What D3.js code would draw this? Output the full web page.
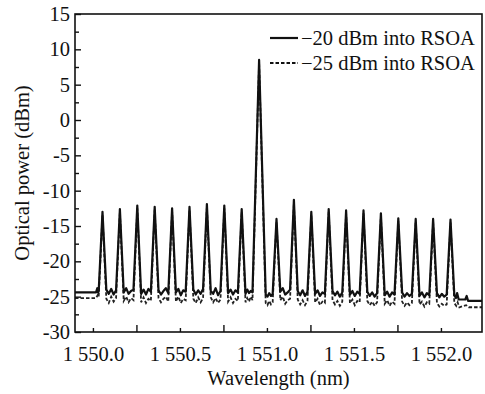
<!DOCTYPE html>
<html>
<head>
<meta charset="utf-8">
<script src="https://cdn.jsdelivr.net/npm/d3@7"></script>
<style>
  html, body { margin: 0; padding: 0; background: #fff; }
  svg text { font-family: "Liberation Serif", "Times New Roman", serif; }
</style>
</head>
<body>
<div id="chart"></div>
<script>
// Channel wavelengths (nm) and peak levels (dBm)
const peakWl = [1550.055, 1550.155, 1550.255, 1550.355, 1550.455, 1550.555, 1550.655,
  1550.755, 1550.855, 1550.955, 1551.055, 1551.155, 1551.255, 1551.355, 1551.455,
  1551.555, 1551.655, 1551.755, 1551.855, 1551.955, 1552.055];
const peakHalf = [0.022, 0.022, 0.022, 0.022, 0.022, 0.022, 0.022, 0.022, 0.022, 0.038,
  0.022, 0.022, 0.022, 0.022, 0.022, 0.022, 0.022, 0.022, 0.022, 0.022, 0.022];
const solidPeak = [-13.0, -12.6, -12.1, -12.3, -12.5, -12.3, -11.9, -12.1, -12.6, 8.5,
  -14.0, -11.3, -13.0, -12.6, -12.8, -12.8, -13.2, -13.9, -14.0, -14.0, -14.1];
const dashPeak = [-13.4, -13.0, -12.5, -12.7, -12.9, -12.7, -12.3, -12.5, -13.0, 8.1,
  -14.4, -11.8, -13.4, -13.0, -13.2, -13.2, -13.6, -14.3, -14.4, -14.4, -14.5];

// noise floor between neighbouring channels (5 readings per gap)
const solidFloor = [
  [-24.0, -24.6, -23.9, -24.7, -24.1], [-24.4, -23.8, -24.6, -24.2, -24.0], [-24.6, -24.0, -24.7, -23.9, -24.3],
  [-24.1, -24.7, -24.2, -23.8, -24.5], [-24.4, -23.9, -24.8, -24.1, -24.3], [-24.0, -24.7, -24.1, -24.6, -23.9],
  [-24.2, -24.6, -23.8, -24.8, -24.2], [-24.5, -24.0, -24.7, -24.1, -24.4], [-24.6, -24.0, -24.5, -24.2, -24.4],
  [-24.7, -25.0, -24.5, -24.9, -24.6], [-24.3, -23.8, -24.7, -24.4, -24.0], [-24.2, -24.8, -24.1, -24.9, -24.3],
  [-24.6, -24.1, -24.9, -24.4, -24.6], [-24.2, -24.8, -24.3, -25.0, -24.4], [-24.7, -24.2, -24.9, -24.3, -24.6],
  [-24.3, -24.9, -24.4, -25.0, -24.5], [-24.8, -24.3, -25.0, -24.4, -24.7], [-24.4, -25.0, -24.5, -24.9, -24.6],
  [-24.9, -24.4, -25.1, -24.5, -24.8], [-24.5, -25.1, -24.6, -25.0, -24.7]
];
const dashFloor = [
  [-25.3, -25.9, -25.0, -25.7, -25.2], [-25.6, -25.0, -25.8, -25.2, -25.5], [-25.8, -25.1, -25.9, -25.3, -25.6],
  [-25.2, -25.8, -25.3, -25.0, -25.7], [-25.7, -25.0, -25.9, -25.3, -25.5], [-25.3, -25.9, -25.1, -25.8, -25.2],
  [-25.1, -25.8, -25.2, -25.9, -25.4], [-25.7, -25.1, -25.9, -25.3, -25.6], [-25.8, -25.2, -25.7, -25.0, -25.5],
  [-25.9, -26.2, -25.6, -26.1, -25.8], [-25.5, -25.0, -26.0, -25.5, -25.3], [-25.4, -26.1, -25.5, -26.2, -25.6],
  [-25.8, -25.3, -26.2, -25.7, -25.9], [-25.5, -26.1, -25.6, -26.3, -25.7], [-25.9, -25.4, -26.2, -25.6, -25.8],
  [-25.6, -26.2, -25.7, -26.3, -25.8], [-26.0, -25.5, -26.3, -25.7, -26.0], [-25.7, -26.3, -25.8, -26.2, -25.9],
  [-26.1, -25.7, -26.4, -25.8, -26.0], [-25.9, -26.4, -26.0, -26.3, -26.1]
];
const solidLead = [[1549.897, -24.4], [1550.018, -24.4], [1550.025, -23.8], [1550.030, -24.4], [1550.033, -24.3]];
const solidTail = [[1552.077, -24.8], [1552.086, -25.2], [1552.093, -24.5], [1552.102, -25.4],
  [1552.140, -25.4], [1552.148, -24.9], [1552.156, -25.6], [1552.236, -25.6]];
const dashLead = [[1549.897, -25.2], [1550.018, -25.2], [1550.027, -24.8], [1550.033, -25.1]];
const dashTail = [[1552.077, -25.9], [1552.088, -26.3], [1552.096, -25.8], [1552.106, -26.5],
  [1552.145, -26.2], [1552.160, -26.5], [1552.236, -26.5]];

const xTicksLabel = [1550.0, 1550.5, 1551.0, 1551.5, 1552.0];
const xTicksLong = [1550.25, 1550.75, 1551.25, 1551.75];
const yTicksMajor = [-30, -25, -20, -15, -10, -5, 0, 5, 10, 15];
const yTicksMinor = [-27.5, -22.5, -17.5, -12.5, -7.5, -2.5, 2.5, 7.5, 12.5];

const legendItems = [
  { label: "\u221220 dBm into RSOA", dash: null, width: 2.2 },
  { label: "\u221225 dBm into RSOA", dash: "3.5,2", width: 1.8 }
];

const W = 485, H = 394;
const M = { left: 75, right: 3, top: 14, bottom: 62 };
const FS = 20.5;

const svg = d3.select("#chart").append("svg")
  .attr("width", W).attr("height", H);

const x = d3.scaleLinear().domain([1549.897, 1552.236]).range([M.left, W - M.right]);
const y = d3.scaleLinear().domain([-30, 15]).range([H - M.bottom, M.top]);

// assemble a spectrum: lead, then each channel peak followed by its floor gap, then tail
function buildSpectrum(lead, peaks, floors, tail) {
  const pts = lead.slice();
  peakWl.forEach((c, i) => {
    pts.push([c, peaks[i]]);
    if (i < floors.length) {
      const a = c + peakHalf[i];
      const b = peakWl[i + 1] - peakHalf[i + 1];
      const g = floors[i];
      g.forEach((v, j) => pts.push([a + (b - a) * j / (g.length - 1), v]));
    }
  });
  return pts.concat(tail);
}

svg.append("defs").append("clipPath").attr("id", "plot")
  .append("rect")
  .attr("x", M.left).attr("y", M.top)
  .attr("width", W - M.left - M.right).attr("height", H - M.top - M.bottom);

const line = d3.line().x(d => x(d[0])).y(d => y(d[1]));
const plot = svg.append("g").attr("clip-path", "url(#plot)");

plot.append("path")
  .datum(buildSpectrum(dashLead, dashPeak, dashFloor, dashTail))
  .attr("fill", "none")
  .attr("stroke", "#222")
  .attr("stroke-width", 1.8)
  .attr("stroke-dasharray", "3.5,2")
  .attr("d", line);

plot.append("path")
  .datum(buildSpectrum(solidLead, solidPeak, solidFloor, solidTail))
  .attr("fill", "none")
  .attr("stroke", "#111")
  .attr("stroke-width", 2.2)
  .attr("stroke-linejoin", "round")
  .attr("d", line);

// axes, ticks pointing inward
const xAxisY = H - M.bottom;
svg.append("g")
  .attr("transform", `translate(0,${xAxisY})`)
  .call(d3.axisBottom(x).tickValues(xTicksLabel).tickSize(-4).tickPadding(14)
    .tickFormat(d => "1 " + d3.format(".1f")(d).slice(1)))
  .call(g => g.select(".domain").remove());
svg.append("g")
  .attr("transform", `translate(0,${xAxisY})`)
  .call(d3.axisBottom(x).tickValues(xTicksLong).tickSize(-7).tickFormat(""))
  .call(g => g.select(".domain").remove());

svg.append("g")
  .attr("transform", `translate(${M.left},0)`)
  .call(d3.axisLeft(y).tickValues(yTicksMajor).tickSize(-6).tickPadding(5)
    .tickFormat(d => String(d)))
  .call(g => g.select(".domain").remove());
svg.append("g")
  .attr("transform", `translate(${M.left},0)`)
  .call(d3.axisLeft(y).tickValues(yTicksMinor).tickSize(-4).tickFormat(""))
  .call(g => g.select(".domain").remove());

svg.selectAll(".tick line").attr("stroke", "#111").attr("stroke-width", 1.4);
svg.selectAll(".tick text")
  .attr("font-size", FS).attr("fill", "#111");

// frame
svg.append("rect")
  .attr("x", M.left).attr("y", M.top)
  .attr("width", W - M.left - M.right).attr("height", H - M.top - M.bottom)
  .attr("fill", "none").attr("stroke", "#111").attr("stroke-width", 1.6);

// axis titles
svg.append("text")
  .attr("x", (M.left + W - M.right) / 2).attr("y", 385)
  .attr("text-anchor", "middle").attr("font-size", FS).attr("fill", "#111")
  .text("Wavelength (nm)");

svg.append("text")
  .attr("transform", `translate(29,${(M.top + H - M.bottom) / 2}) rotate(-90)`)
  .attr("text-anchor", "middle").attr("font-size", FS).attr("fill", "#111")
  .text("Optical power (dBm)");

// legend
const legend = svg.append("g").attr("transform", "translate(270,38)");
legendItems.forEach((d, i) => {
  const row = legend.append("g").attr("transform", `translate(0,${i * 25})`);
  row.append("line")
    .attr("x1", 0).attr("x2", 28).attr("y1", 0).attr("y2", 0)
    .attr("stroke", "#111").attr("stroke-width", d.width)
    .attr("stroke-dasharray", d.dash);
  row.append("text")
    .attr("x", 31).attr("y", 7)
    .attr("font-size", FS).attr("fill", "#111")
    .text(d.label);
});
</script>
</body>
</html>
